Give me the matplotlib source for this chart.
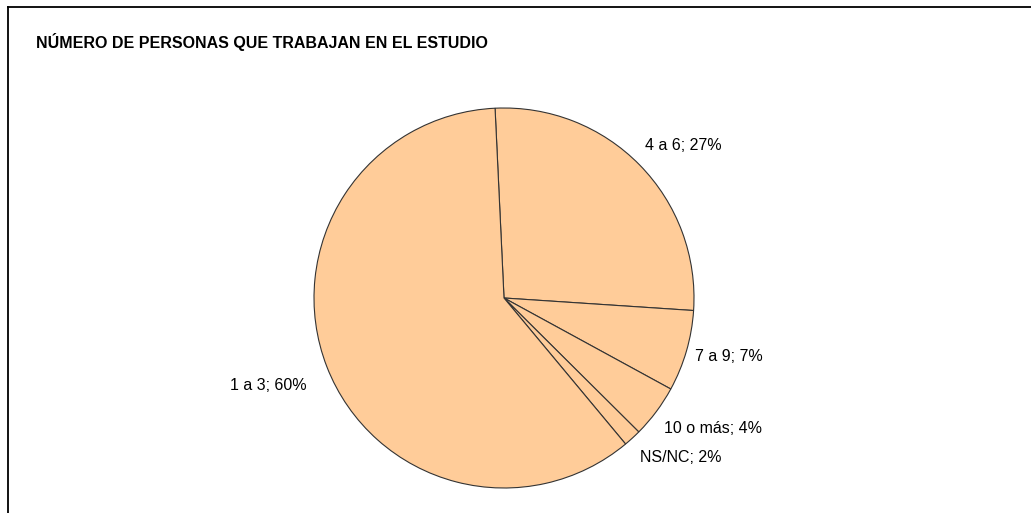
import matplotlib
matplotlib.use("Agg")
import matplotlib.pyplot as plt
from matplotlib.lines import Line2D

plt.rcParams['font.family'] = ['Liberation Sans', 'DejaVu Sans']

titulo = "NÚMERO DE PERSONAS QUE TRABAJAN EN EL ESTUDIO"
categorias = ["4 a 6", "7 a 9", "10 o más", "NS/NC", "1 a 3"]
valores = [26.8, 6.9, 4.5, 1.5, 60.3]
porcentajes = ["27%", "7%", "4%", "2%", "60%"]

etiquetas = [c + "; " + p for c, p in zip(categorias, porcentajes)]

W, H = 1031, 513
fig = plt.figure(figsize=(W / 100, H / 100), dpi=100)

# pie centrado en (504, 298) px, radio 190 px
cx, cy, r = 504, 298, 190
ax = fig.add_axes([(cx - r) / W, (H - cy - r) / H, 2 * r / W, 2 * r / H])
wedges, textos = ax.pie(valores, labels=etiquetas, startangle=92.7, counterclock=False,
                        colors=['#FFCC99'] * len(valores), labeldistance=1.09,
                        wedgeprops=dict(edgecolor='#333333', linewidth=0.8),
                        textprops=dict(fontsize=11.5, color='black'))
for w in wedges:
    w.set_clip_on(False)
ax.set_xlim(-1, 1)
ax.set_ylim(-1, 1)
ax.set_aspect('equal')

# ajuste fino de las etiquetas (en px)
desplaz = [(-7, 7), (-8, -1), (-6, -7), (-4, -7), (-4, -12)]
for t, (dx, dy) in zip(textos, desplaz):
    x, y = t.get_position()
    t.set_position((x + dx / r, y + dy / r))

fig.text(36 / W, 1 - 42 / H, titulo, fontsize=11.5, fontweight='bold', va='center', ha='left')

# marco del grafico
fig.add_artist(Line2D([7.5 / W, 1], [1 - 6.5 / H, 1 - 6.5 / H], color='black', lw=1.3))
fig.add_artist(Line2D([7.5 / W, 7.5 / W], [0, 1 - 6.5 / H], color='black', lw=1.3))

fig.savefig("out.png", dpi=100)
